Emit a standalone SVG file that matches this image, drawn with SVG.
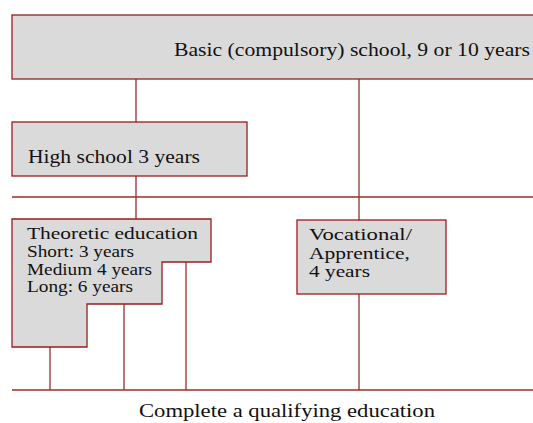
<svg xmlns="http://www.w3.org/2000/svg" width="533" height="423" viewBox="0 0 533 423">
<style>
.box{fill:#dadada;stroke:#9b1c1c;stroke-width:1.3}
.ln{stroke:#a02a2a;stroke-width:1.3;fill:none}
text{font-family:"Liberation Serif","Times New Roman",serif;fill:#111}
</style>
<rect width="533" height="423" fill="#fff"/>
<g id="connectors">
<line class="ln" x1="136" y1="79" x2="136" y2="122"/>
<line class="ln" x1="359" y1="79" x2="359" y2="220"/>
<line class="ln" x1="136" y1="176" x2="136" y2="219"/>
<line class="ln" x1="12" y1="197" x2="533" y2="197"/>
<line class="ln" x1="50" y1="347" x2="50" y2="390"/>
<line class="ln" x1="124" y1="304" x2="124" y2="390"/>
<line class="ln" x1="186" y1="262" x2="186" y2="390"/>
<line class="ln" x1="359" y1="294" x2="359" y2="390"/>
<line class="ln" x1="12" y1="390" x2="533" y2="390"/>
</g>
<g id="basic">
<rect class="box" x="12" y="15" width="530" height="64"/>
<text x="174" y="56" font-size="18.5" textLength="356" lengthAdjust="spacingAndGlyphs">Basic (compulsory) school, 9 or 10 years</text>
</g>
<g id="highschool">
<rect class="box" x="12" y="122" width="235" height="54"/>
<text x="28" y="162.5" font-size="19" textLength="172" lengthAdjust="spacingAndGlyphs">High school 3 years</text>
</g>
<g id="theoretic">
<polygon class="box" points="12,219 211,219 211,262 162,262 162,304 87,304 87,347 12,347"/>
<text x="27" y="239" font-size="17" textLength="171" lengthAdjust="spacingAndGlyphs">Theoretic education</text>
<text x="27" y="257" font-size="16" textLength="107" lengthAdjust="spacingAndGlyphs">Short: 3 years</text>
<text x="27" y="274.5" font-size="16" textLength="125" lengthAdjust="spacingAndGlyphs">Medium 4 years</text>
<text x="27" y="292" font-size="16" textLength="106" lengthAdjust="spacingAndGlyphs">Long: 6 years</text>
</g>
<g id="vocational">
<rect class="box" x="297" y="220" width="149" height="74"/>
<text x="309" y="240" font-size="17" textLength="103" lengthAdjust="spacingAndGlyphs">Vocational/</text>
<text x="309" y="258.5" font-size="17" textLength="101" lengthAdjust="spacingAndGlyphs">Apprentice,</text>
<text x="309" y="277" font-size="17" textLength="61" lengthAdjust="spacingAndGlyphs">4 years</text>
</g>
<g id="complete">
<text x="139" y="417" font-size="18" textLength="296" lengthAdjust="spacingAndGlyphs">Complete a qualifying education</text>
</g>
</svg>
